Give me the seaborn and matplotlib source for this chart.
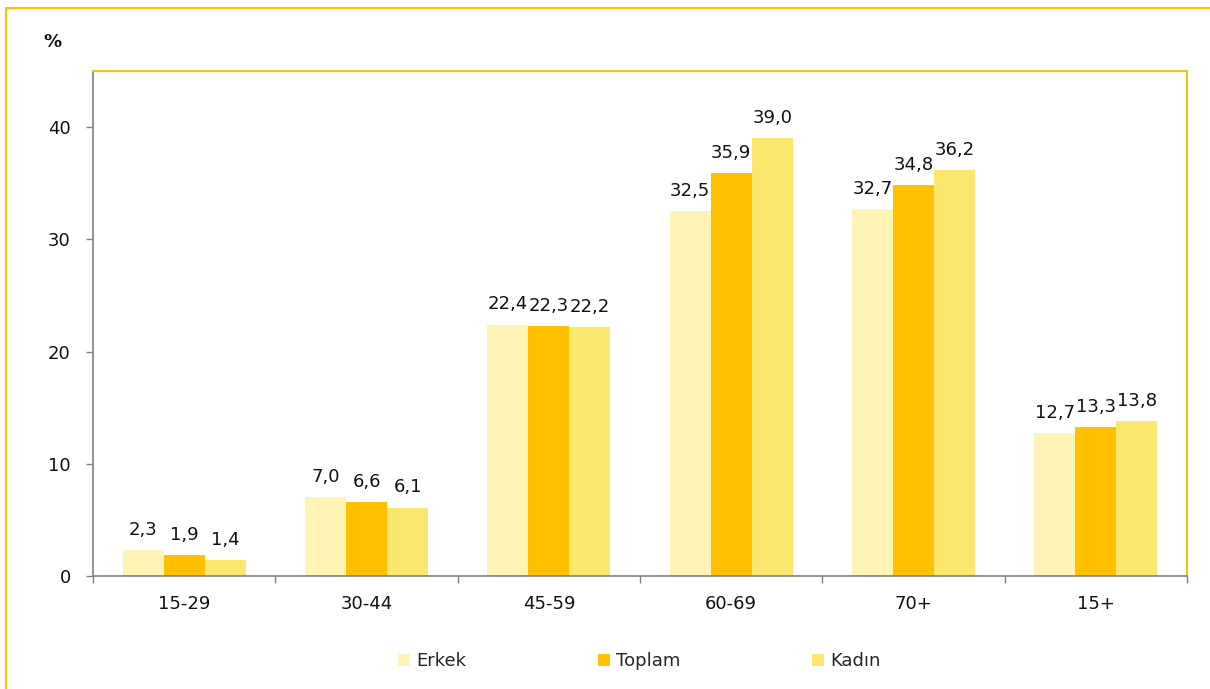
import numpy as np
import pandas as pd
import seaborn as sns
import matplotlib.pyplot as plt
from matplotlib.patches import Rectangle

# data
age_groups = ["15-29", "30-44", "45-59", "60-69", "70+", "15+"]
erkek = [2.3, 7.0, 22.4, 32.5, 32.7, 12.7]
toplam = [1.9, 6.6, 22.3, 35.9, 34.8, 13.3]
kadin = [1.4, 6.1, 22.2, 39.0, 36.2, 13.8]
series = ["Erkek", "Toplam", "Kadın"]

colors = ["#FFF3B5", "#FFC000", "#FBE76E"]
yellow = "#FFC000"
gray = "#808080"
fs = 13

df = pd.DataFrame({"grup": age_groups * 3,
                   "deger": erkek + toplam + kadin,
                   "seri": np.repeat(series, len(age_groups))})

sns.set_style("white")
plt.rcParams["font.family"] = ["DejaVu Sans"]

fig = plt.figure(figsize=(12.1, 6.89), dpi=100)
ax = fig.add_axes([0.0769, 0.164, 0.9041, 0.733])

sns.barplot(data=df, x="grup", y="deger", hue="seri", hue_order=series,
            palette=colors, width=0.675, saturation=1, linewidth=0,
            ax=ax, legend=True)

for c in ax.containers:
    ax.bar_label(c, labels=[f"{v:.1f}".replace(".", ",") for v in c.datavalues],
                 padding=8, fontsize=fs, color="#111111")

ax.set_ylim(0, 45)
ax.set_xlim(-0.5, 5.5)
ax.set_yticks([0, 10, 20, 30, 40])
ax.set_xlabel("")
ax.set_ylabel("")

# ticks: y ticks outward, x ticks on category boundaries
ax.tick_params(axis="y", which="major", length=5, width=1, color=gray,
               labelsize=fs, pad=11, left=True, labelcolor="#111111")
ax.tick_params(axis="x", which="major", length=0, labelsize=fs, pad=14,
               labelcolor="#111111")
ax.set_xticks(np.arange(-0.5, 6, 1), minor=True)
ax.tick_params(axis="x", which="minor", length=5, width=1, color=gray, bottom=True)

for side in ["left", "bottom"]:
    ax.spines[side].set_color(gray)
    ax.spines[side].set_linewidth(1.2)
for side in ["top", "right"]:
    ax.spines[side].set_visible(True)
    ax.spines[side].set_color(yellow)
    ax.spines[side].set_linewidth(1.5)

ax.legend(loc="center left", bbox_to_anchor=(398 / 1210, 1 - 661 / 689),
          bbox_transform=fig.transFigure, ncol=3, frameon=False, fontsize=fs,
          handlelength=0.67, handleheight=0.67, handletextpad=0.33,
          columnspacing=7.3, borderpad=0, borderaxespad=0)

fig.text(0.036, 0.932, "%", fontsize=fs, fontweight="bold", color="#111111")

# outer frame
fig.patches.append(Rectangle((0.005, -0.05), 1.1, 1.038, transform=fig.transFigure,
                             fill=False, edgecolor=yellow, linewidth=1.5))

fig.savefig("out.png", dpi=100)
